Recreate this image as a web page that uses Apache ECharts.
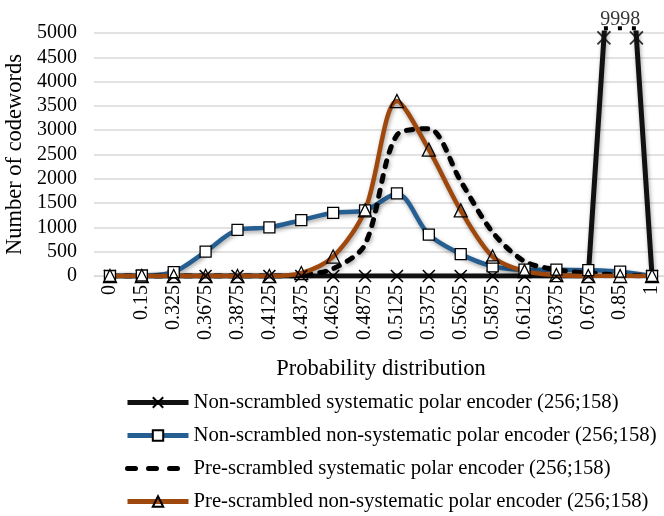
<!DOCTYPE html>
<html>
<head>
<meta charset="utf-8">
<script src="https://cdn.jsdelivr.net/npm/echarts@6/dist/echarts.min.js"></script>
<style>
  html, body { margin: 0; padding: 0; background: #fff; }
  #chart { width: 664px; height: 516px; }
</style>
</head>
<body>
<div id="chart"></div>
<script>
// ---- data ----
const categories = ['0','0.15','0.325','0.3675','0.3875','0.4125','0.4375','0.4625','0.4875','0.5125','0.5375','0.5625','0.5875','0.6125','0.6375','0.675','0.85','1'];
const nonScrSys    = [0,0,0,0,0,0,0,0,0,0,0,0,0,0,0,0,9998,0];
const nonScrNonSys = [0,10,80,500,950,1000,1150,1300,1350,1700,850,450,200,130,130,120,90,0];
const preScrSys    = [0,0,0,0,0,0,20,150,650,2900,3030,1950,900,300,130,60,20,0];
const preScrNonSys = [0,0,0,0,0,0,60,400,1350,3600,2600,1350,400,100,20,0,0,0];
const seriesNames = [
  'Non-scrambled systematic polar encoder (256;158)',
  'Non-scrambled non-systematic polar encoder (256;158)',
  'Pre-scrambled systematic polar encoder (256;158)',
  'Pre-scrambled non-systematic polar encoder (256;158)'
];
const yMax = 5000;

// ---- clipped peak annotation derived from data ----
let peakIdx = 0;
nonScrSys.forEach((v, i) => { if (v > nonScrSys[peakIdx]) peakIdx = i; });
const peakVal = nonScrSys[peakIdx];
const markY = yMax * 0.98;
const leftX = (peakIdx - 1) + (markY - nonScrSys[peakIdx - 1]) / (peakVal - nonScrSys[peakIdx - 1]);
const rightX = peakIdx + (peakVal - markY) / (peakVal - nonScrSys[peakIdx + 1]);
const dotsY = yMax * 1.02;

const FONT = "'Liberation Serif', 'Times New Roman', serif";
const xSym = 'path://M0,0L10,10M10,0L0,10';
const shadow = { shadowColor: 'rgba(0,0,0,0.35)', shadowBlur: 4, shadowOffsetX: 1, shadowOffsetY: 2 };
const noShadow = { shadowBlur: 0, shadowOffsetX: 0, shadowOffsetY: 0 };

const chart = echarts.init(document.getElementById('chart'), null, { renderer: 'canvas' });
chart.setOption({
  animation: false,
  backgroundColor: '#fff',
  textStyle: { fontFamily: FONT, color: '#000' },
  grid: { left: 94, right: -4, top: 33, bottom: 240, containLabel: false, outerBoundsMode: 'none' },
  legend: {
    orient: 'vertical',
    left: 125,
    top: 392,
    padding: 0,
    itemGap: 12,
    itemWidth: 61,
    itemHeight: 13,
    data: [
      { name: seriesNames[0], lineStyle: Object.assign({ width: 5 }, noShadow) },
      { name: seriesNames[1], lineStyle: Object.assign({ width: 5 }, noShadow) },
      { name: seriesNames[2], itemStyle: { opacity: 0 }, lineStyle: Object.assign({ width: 5, type: [8, 13], cap: 'round' }, noShadow) },
      { name: seriesNames[3], lineStyle: Object.assign({ width: 5 }, noShadow) }
    ],
    textStyle: { fontFamily: FONT, fontSize: 20.7, color: '#000', lineHeight: 21 }
  },
  xAxis: [{
    type: 'category',
    data: categories,
    boundaryGap: true,
    name: 'Probability distribution',
    nameLocation: 'middle',
    nameGap: 82,
    nameTextStyle: { fontFamily: FONT, fontSize: 22.5, color: '#000' },
    axisLine: { show: true, lineStyle: { color: '#d9d9d9', width: 1 } },
    axisTick: { show: false },
    axisLabel: { interval: 0, rotate: 90, margin: 9, fontFamily: FONT, fontSize: 20, color: '#000' }
  }, {
    type: 'value',
    min: -0.5,
    max: categories.length - 0.5,
    show: false
  }],
  yAxis: {
    type: 'value',
    min: 0,
    max: yMax,
    interval: 500,
    name: 'Number of codewords',
    nameLocation: 'middle',
    nameGap: 63,
    nameTextStyle: { fontFamily: FONT, fontSize: 22.5, color: '#000' },
    axisLine: { show: false },
    axisTick: { show: false },
    axisLabel: { margin: 17, fontFamily: FONT, fontSize: 20, color: '#000', formatter: v => String(v) },
    splitLine: { lineStyle: { color: '#d9d9d9', width: 1.5 } }
  },
  series: [
    {
      name: seriesNames[0], type: 'line', data: nonScrSys, clip: true,
      symbol: xSym, symbolSize: 12,
      lineStyle: Object.assign({ color: '#111', width: 5 }, shadow),
      itemStyle: { color: 'rgba(0,0,0,0)', borderColor: '#000', borderWidth: 1.6 }
    },
    {
      name: seriesNames[1], type: 'line', data: nonScrNonSys, smooth: 0.3,
      symbol: 'rect', symbolSize: 11,
      lineStyle: Object.assign({ color: '#255e91', width: 4.5 }, shadow),
      itemStyle: { color: '#fff', borderColor: '#000', borderWidth: 1.3 }
    },
    {
      name: seriesNames[2], type: 'line', data: preScrSys, smooth: 0.3,
      symbol: 'circle', showSymbol: false,
      lineStyle: Object.assign({ color: '#000', width: 5, type: [6, 9], cap: 'round' }, shadow),
      itemStyle: { color: '#000' }
    },
    {
      name: seriesNames[3], type: 'line', data: preScrNonSys, smooth: 0.3,
      symbol: 'triangle', symbolSize: 13,
      lineStyle: Object.assign({ color: '#9e480e', width: 4.5 }, shadow),
      itemStyle: { color: 'rgba(255,255,255,0)', borderColor: '#000', borderWidth: 1.3 }
    },
    {
      name: 'clipMarks', type: 'scatter', xAxisIndex: 1, clip: false,
      data: [[leftX, markY], [rightX, markY]],
      symbol: xSym, symbolSize: 13, silent: true,
      itemStyle: { color: 'rgba(0,0,0,0)', borderColor: '#000', borderWidth: 1.8 }
    },
    {
      name: 'clipDots', type: 'line', xAxisIndex: 1, clip: false, silent: true,
      data: [[leftX, dotsY], [rightX, dotsY]],
      symbol: 'none',
      lineStyle: { color: '#000', width: 4, type: [4, 10], cap: 'butt' }
    },
    {
      name: 'peakLabel', type: 'scatter', xAxisIndex: 1, clip: false, silent: true,
      data: [[peakIdx, dotsY, peakVal]],
      symbolSize: 0,
      label: {
        show: true, position: 'top', distance: -2,
        fontFamily: FONT, fontSize: 20, color: '#000',
        formatter: p => String(p.data[2])
      }
    }
  ]
});
</script>
</body>
</html>
